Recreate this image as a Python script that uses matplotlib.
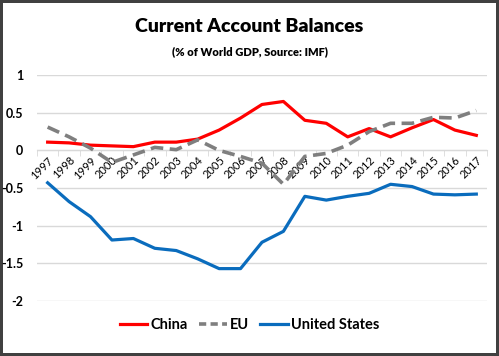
import numpy as np
import matplotlib.pyplot as plt
from matplotlib.lines import Line2D

plt.rcParams['font.family'] = ['Lato', 'DejaVu Sans']

# Данные (% от мирового ВВП)
years = [str(y) for y in range(1997, 2018)]
china = [0.11, 0.10, 0.07, 0.06, 0.05, 0.11, 0.11, 0.15, 0.27, 0.43, 0.61,
         0.65, 0.40, 0.36, 0.18, 0.29, 0.18, 0.30, 0.41, 0.27, 0.20]
eu = [0.31, 0.18, 0.03, -0.16, -0.06, 0.04, 0.01, 0.14, 0.0, -0.08, -0.17,
      -0.45, -0.08, -0.04, 0.07, 0.25, 0.36, 0.36, 0.44, 0.43, 0.53]
usa = [-0.43, -0.68, -0.88, -1.19, -1.17, -1.30, -1.33, -1.44, -1.57, -1.57, -1.22,
       -1.075, -0.61, -0.66, -0.61, -0.57, -0.45, -0.48, -0.58, -0.59, -0.58]
yticks = [1, 0.5, 0, -0.5, -1, -1.5, -2]
ytick_labels = ['1', '0.5', '0', '-0.5', '-1', '-1.5', '-2']

fig = plt.figure(figsize=(4.99, 3.56), dpi=100)
fig.patch.set_edgecolor('#404040')
fig.patch.set_linewidth(3)

ax = fig.add_axes([0.074, 0.1545, 0.902, 0.6345])
x = np.arange(len(years))

ax.plot(x, china, color='#ff0000', lw=2.3, solid_joinstyle='round', zorder=3)
ax.plot(x, eu, color='#7f7f7f', lw=2.6, dashes=(3.5, 1.8), zorder=3)
ax.plot(x, usa, color='#0a6cbd', lw=2.3, solid_joinstyle='round', zorder=3)

ax.set_xlim(-0.5, len(years) - 0.5)
ax.set_ylim(-2, 1)
ax.set_yticks(yticks)
ax.set_yticklabels(ytick_labels, fontweight='bold', fontsize=9)
ax.yaxis.grid(True, color='#d9d9d9', lw=1)
ax.tick_params(axis='y', length=0, pad=10)
for s in ['top', 'right', 'left']:
    ax.spines[s].set_visible(False)
ax.spines['bottom'].set_position(('data', 0))
ax.spines['bottom'].set_color('#d9d9d9')
ax.set_axisbelow(True)

ax.set_xticks(x)
ax.set_xticklabels(years, rotation=45, ha='right', va='top', fontsize=8,
                   rotation_mode='anchor')
ax.tick_params(axis='x', length=0, pad=3)
ax.set_xticks(np.arange(-0.5, len(years)), minor=True)
ax.tick_params(axis='x', which='minor', length=4, color='#d9d9d9')

fig.text(0.5, 0.925, 'Current Account Balances', ha='center', va='center',
         fontsize=14, fontweight='heavy')
fig.text(0.5, 0.855, '(% of World GDP, Source: IMF)', ha='center', va='center',
         fontsize=8, fontweight='heavy')

handles = [Line2D([], [], color='#ff0000', lw=2.3),
           Line2D([], [], color='#7f7f7f', lw=2.6, dashes=(2, 1.2)),
           Line2D([], [], color='#0a6cbd', lw=2.3)]
fig.legend(handles, ['China', 'EU', 'United States'], loc='center',
           bbox_to_anchor=(0.5, 0.088), ncol=3, frameon=False,
           prop={'weight': 'bold', 'size': 10.5}, handlelength=1.9,
           handletextpad=0.2, columnspacing=0.8)

fig.savefig('out.png', dpi=100)
